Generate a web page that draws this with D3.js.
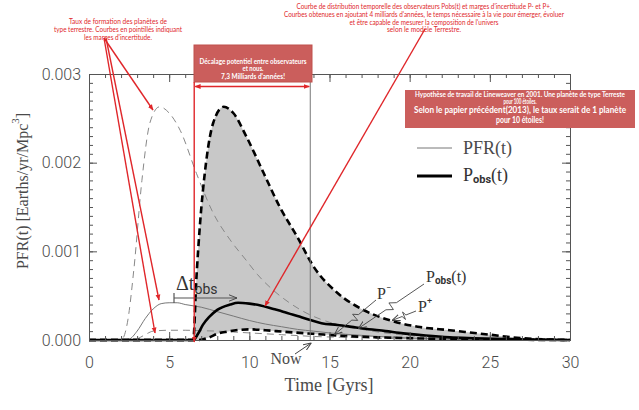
<!DOCTYPE html>
<html><head><meta charset="utf-8">
<script src="https://cdn.jsdelivr.net/npm/d3@7"></script>
<style>body{margin:0;background:#fff}svg{display:block}</style>
</head><body>
<svg id="c" width="639" height="410"></svg>
<script>
// ---- data ----
const xTicks = [0, 5, 10, 15, 20, 25, 30];
const yTicks = [0, 0.001, 0.002, 0.003];
const nowT = 13.8;      // "Now"
const shiftStartT = 6.5; // start of the observer distribution

const pfrT = [0, 2, 2.5, 3, 3.5, 4, 4.5, 5, 5.5, 6, 7, 8, 9, 10, 11, 12, 13, 14, 15, 16, 18, 20, 22, 25, 30];
const pfrV = [0, 0, 0.00001, 0.0001, 0.00024, 0.00035, 0.00041, 0.00042, 0.00042, 0.0004, 0.00037, 0.00032, 0.00027, 0.00022, 0.00018, 0.00015, 0.00012, 0.0001, 0.00008, 0.000065, 0.00004, 0.000022, 0.000012, 0.000004, 0];

const pfrUpT = [0, 2, 2.4, 2.8, 3.3, 3.8, 4.4, 5, 5.7, 6.7, 7.75, 8.8, 9.8, 10.5, 11.5, 12.5, 13.6, 15, 17, 20, 23, 26, 30];
const pfrUpV = [0, 0, 0.0002, 0.0008, 0.0018, 0.00245, 0.00263, 0.00256, 0.00236, 0.00188, 0.00143, 0.00113, 0.0009, 0.00074, 0.00056, 0.00042, 0.0003, 0.0002, 0.00012, 0.00005, 0.00002, 0.00001, 0];

const pfrLoT = [0, 2.8, 3.2, 3.6, 4, 5, 6, 7, 8, 9, 10, 11, 12, 13, 14, 16, 18, 20, 23, 26, 30];
const pfrLoV = [0, 0, 0.00003, 0.00007, 0.0001, 0.00011, 0.00011, 0.000105, 0.0001, 0.00009, 0.00008, 0.00007, 0.00006, 0.00005, 0.00004, 0.00003, 0.00002, 0.000013, 0.000006, 0.000002, 0];

const pObsT = [0, 6.5, 6.8, 7.1, 7.5, 8, 8.8, 9.3, 10, 10.7, 11.5, 12.1, 13, 13.8, 14.5, 15.5, 16.5, 17.1, 18.5, 19.6, 21, 22.5, 24, 26, 28, 30];
const pObsV = [0, 0, 0.00007, 0.00017, 0.00026, 0.00034, 0.0004, 0.00042, 0.00041, 0.00039, 0.00035, 0.00032, 0.00027, 0.000225, 0.00019, 0.00017, 0.000145, 0.00013, 0.0001, 0.000075, 0.00005, 0.00003, 0.00002, 0.00001, 0.000004, 0];

const pPlusT = [0, 6.5, 6.7, 6.9, 7.3, 7.75, 8.4, 9, 9.8, 10.9, 11.9, 13, 14, 15.5, 17, 18.8, 20.5, 22.5, 25, 27, 30];
const pPlusV = [0, 0, 0.0007, 0.00125, 0.002, 0.00245, 0.00263, 0.00256, 0.0023, 0.00188, 0.0015, 0.00116, 0.00083, 0.00053, 0.00035, 0.00022, 0.00015, 0.00011, 0.00006, 0.00002, 0];

const pMinusT = [0, 6.8, 7.5, 8, 8.6, 10, 11, 12.1, 14.1, 16, 18, 20, 23, 26, 30];
const pMinusV = [0, 0, 0.00003, 0.00007, 0.000094, 0.00012, 0.00011, 0.000094, 0.000068, 0.000045, 0.00003, 0.00002, 0.00001, 0.000004, 0];

const noteLeft = ["Taux de  formation des planètes de", "type terrestre. Courbes en pointillés indiquant", "les marges d'incertitude."];
const noteTop = ["Courbe de distribution temporelle des observateurs Pobs(t) et marges d'incertitude P- et P+.",
  "Courbes obtenues en ajoutant 4 milliards d'années, le temps nécessaire à la vie pour émerger, évoluer",
  "et être capable de mesurer la composition de l'univers", "selon le modèle Terrestre."];
const boxShift = ["Décalage potentiel entre observateurs", "et nous.", "7,3 Milliards d'années!"];
const boxHyp = ["Hypothèse de travail de Lineweaver en 2001. Une planète de type Terreste", "pour 100 étoiles.",
  "Selon le papier précédent(2013), le taux serait de 1 planète", "pour 10 étoiles!"];

// ---- drawing ----
const svg = d3.select("#c");
const x = d3.scaleLinear().domain([0, 30]).range([89, 570]);
const y = d3.scaleLinear().domain([0, 0.003]).range([340, 74]);
const serif = "'Liberation Serif','DejaVu Serif',serif";
const sans = "Roboto,'Liberation Sans',Arial,sans-serif";
const noteFont = "Lato,'Open Sans',sans-serif";
const RED = "#e0262a";
const INK = "#4a4a4a";

const defs = svg.append("defs");
defs.append("marker").attr("id", "ra").attr("viewBox", "0 0 10 10").attr("refX", 9).attr("refY", 5)
  .attr("markerWidth", 6).attr("markerHeight", 6).attr("orient", "auto-start-reverse").attr("markerUnits", "userSpaceOnUse")
  .append("path").attr("d", "M0,1 L10,5 L0,9 Z").attr("fill", RED);
defs.append("marker").attr("id", "ga").attr("viewBox", "0 0 10 10").attr("refX", 10).attr("refY", 5)
  .attr("markerWidth", 8).attr("markerHeight", 8).attr("orient", "auto").attr("markerUnits", "userSpaceOnUse")
  .append("path").attr("d", "M0,1 L10,5 L0,9").attr("fill", "none").attr("stroke", "#444").attr("stroke-width", 1.2);

const line = d3.line().x(d => x(d[0])).y(d => y(d[1])).curve(d3.curveMonotoneX);
const pts = (t, v) => d3.zip(t, v);

// gray band between P- and P+
const topPath = line(pts(pPlusT, pPlusV).filter(d => d[0] >= shiftStartT));
const botPath = line(pts(pMinusT, pMinusV).filter(d => d[0] >= shiftStartT).reverse());
svg.append("path").attr("d", topPath + botPath.replace(/^M/, "L") + "Z").attr("fill", "#c8c8c8");

// PFR curves (thin gray)
svg.append("path").attr("d", line(pts(pfrUpT, pfrUpV))).attr("fill", "none").attr("stroke", "#888").attr("stroke-width", 1).attr("stroke-dasharray", "7,5");
svg.append("path").attr("d", line(pts(pfrLoT, pfrLoV))).attr("fill", "none").attr("stroke", "#888").attr("stroke-width", 1).attr("stroke-dasharray", "7,5");
svg.append("path").attr("d", line(pts(pfrT, pfrV))).attr("fill", "none").attr("stroke", "#777").attr("stroke-width", 1);

// observer curves (thick black)
svg.append("path").attr("d", line(pts(pMinusT, pMinusV))).attr("fill", "none").attr("stroke", "#000").attr("stroke-width", 2.6).attr("stroke-dasharray", "7,4");
svg.append("path").attr("d", line(pts(pPlusT, pPlusV))).attr("fill", "none").attr("stroke", "#000").attr("stroke-width", 2.6).attr("stroke-dasharray", "7,4");
svg.append("path").attr("d", line(pts(pObsT, pObsV))).attr("fill", "none").attr("stroke", "#000").attr("stroke-width", 2.6);

// Now line
svg.append("line").attr("x1", x(nowT)).attr("x2", x(nowT)).attr("y1", y(0.003)).attr("y2", y(0)).attr("stroke", "#777").attr("stroke-width", 1);

// axes
function styleAxis(g) { g.select(".domain").attr("stroke", "#555"); g.selectAll(".tick line").attr("stroke", "#555"); }
const minorX = d3.range(0, 31, 1), minorY = d3.range(0, 0.00301, 0.0001);
svg.append("g").attr("transform", `translate(0,${y(0)})`).call(d3.axisBottom(x).tickValues(minorX).tickSize(-4).tickFormat("")).call(styleAxis);
svg.append("g").attr("transform", `translate(0,${y(0.003)})`).call(d3.axisTop(x).tickValues(minorX).tickSize(-4).tickFormat("")).call(styleAxis);
svg.append("g").attr("transform", `translate(${x(0)},0)`).call(d3.axisLeft(y).tickValues(minorY).tickSize(-4).tickFormat("")).call(styleAxis);
svg.append("g").attr("transform", `translate(${x(30)},0)`).call(d3.axisRight(y).tickValues(minorY).tickSize(-4).tickFormat("")).call(styleAxis);

const gx = svg.append("g").attr("transform", `translate(0,${y(0)})`)
  .call(d3.axisBottom(x).tickValues(xTicks).tickSize(-8).tickPadding(17).tickFormat(d3.format("d"))).call(styleAxis);
svg.append("g").attr("transform", `translate(0,${y(0.003)})`).call(d3.axisTop(x).tickValues(xTicks).tickSize(-8).tickFormat("")).call(styleAxis);
const gy = svg.append("g").attr("transform", `translate(${x(0)},0)`)
  .call(d3.axisLeft(y).tickValues(yTicks).tickSize(-8).tickPadding(8).tickFormat(d3.format(".3f"))).call(styleAxis);
svg.append("g").attr("transform", `translate(${x(30)},0)`).call(d3.axisRight(y).tickValues(yTicks).tickSize(-8).tickFormat("")).call(styleAxis);
[gx, gy].forEach(g => g.selectAll("text").attr("font-family", sans).attr("font-weight", 300).attr("font-size", 16).attr("fill", INK));

// axis titles
svg.append("text").attr("x", 329).attr("y", 385).attr("text-anchor", "middle").attr("dominant-baseline", "central")
  .attr("font-family", serif).attr("font-size", 18).attr("fill", INK).text("Time [Gyrs]");
const yt = svg.append("text").attr("transform", "translate(22,191) rotate(-90)").attr("text-anchor", "middle").attr("dominant-baseline", "central")
  .attr("font-family", serif).attr("font-size", 16).attr("fill", INK);
yt.append("tspan").text("PFR(t) [Earths/yr/Mpc");
yt.append("tspan").attr("font-size", 11).attr("dy", -7).text("3");
yt.append("tspan").attr("dy", 7).text("]");

// Now label
svg.append("text").attr("x", 286).attr("y", 358).attr("text-anchor", "middle").attr("dominant-baseline", "central")
  .attr("font-family", serif).attr("font-size", 16).attr("fill", INK).text("Now");
svg.append("line").attr("x1", 295).attr("y1", 354).attr("x2", x(nowT) + 1).attr("y2", 343).attr("stroke", "#444").attr("stroke-width", 1).attr("marker-end", "url(#ga)");

// legend
svg.append("line").attr("x1", 417).attr("x2", 452).attr("y1", 148).attr("y2", 148).attr("stroke", "#777").attr("stroke-width", 1);
svg.append("line").attr("x1", 417).attr("x2", 452).attr("y1", 176).attr("y2", 176).attr("stroke", "#000").attr("stroke-width", 3);
svg.append("text").attr("x", 463).attr("y", 148).attr("dominant-baseline", "central").attr("font-family", serif).attr("font-size", 18).attr("fill", INK).text("PFR(t)");
function pobs(xp, yp, fs, sub) {
  const t = svg.append("text").attr("x", xp).attr("y", yp).attr("dominant-baseline", "central").attr("font-family", serif).attr("font-size", fs).attr("fill", "#333");
  t.append("tspan").text("P");
  t.append("tspan").attr("font-family", sans).attr("font-weight", "bold").attr("font-size", sub).attr("dy", 4).text("obs");
  t.append("tspan").attr("dy", -4).text("(t)");
}
pobs(463, 175, 18, 11);
pobs(426, 276, 16, 10);

// P- / P+ labels
function plab(xp, yp, sign) {
  const t = svg.append("text").attr("x", xp).attr("y", yp).attr("dominant-baseline", "central").attr("font-family", serif).attr("font-size", 16).attr("fill", "#333");
  t.append("tspan").text("P");
  t.append("tspan").attr("font-family", sans).attr("font-size", 9).attr("dy", -5).text(sign);
}
plab(377, 293, "−");
plab(418, 306, "+");

// zigzag leaders
function zig(S, E) {
  const dx = E[0] - S[0], dy = E[1] - S[1], L = Math.hypot(dx, dy);
  const u = [dx / L, dy / L], n = [-u[1], u[0]];
  const f = (a, o) => [S[0] + u[0] * a * L + n[0] * o, S[1] + u[1] * a * L + n[1] * o];
  const p = [S, f(0.42, 0), f(0.5, 4), f(0.5, -4), f(0.58, 0), E];
  svg.append("path").attr("d", d3.line()(p)).attr("fill", "none").attr("stroke", "#444").attr("stroke-width", 0.9).attr("marker-end", "url(#ga)");
}
zig([424, 284], [x(16.8), y(0.00013)]);
zig([376, 300], [x(15.3), y(0.00006)]);
zig([416, 311], [x(18.9), y(0.00022)]);

// Delta t_obs
svg.append("line").attr("x1", 174).attr("x2", 237).attr("y1", 298).attr("y2", 298).attr("stroke", "#555").attr("stroke-width", 1.2).attr("marker-end", "url(#ga)");
svg.append("line").attr("x1", 174).attr("x2", 174).attr("y1", 293).attr("y2", 303).attr("stroke", "#555").attr("stroke-width", 1.2);
const dt = svg.append("text").attr("x", 176).attr("y", 283).attr("dominant-baseline", "central").attr("font-family", serif).attr("font-size", 20).attr("fill", "#333");
dt.append("tspan").text("Δt");
dt.append("tspan").attr("font-family", sans).attr("font-size", 14).attr("dy", 6).text("obs");

// ---- red annotations ----
function noteLines(lines, cx, ys, widths, fs, weight, fill) {
  lines.forEach((s, i) => {
    svg.append("text").attr("x", cx).attr("y", ys[i]).attr("text-anchor", "middle").attr("dominant-baseline", "central")
      .attr("font-family", noteFont).attr("font-size", fs[i]).attr("font-weight", weight).attr("fill", fill)
      .attr("textLength", widths[i]).attr("lengthAdjust", "spacingAndGlyphs").text(s);
  });
}
noteLines(noteLeft, 118, [20.7, 29, 36.7], [98, 128, 68], [7, 7, 7], "normal", RED);
noteLines(noteTop, 424, [5.5, 14, 21.8, 29.4], [255, 280, 149, 74], [7, 7, 7, 7], "normal", RED);

// box: time shift
svg.append("rect").attr("x", 194).attr("y", 45).attr("width", 118).attr("height", 37).attr("fill", "#cb5e5c").attr("stroke", "#c0504d").attr("stroke-width", 1);
noteLines(boxShift, 253, [60.5, 68.2, 76], [107, 21, 64], [7, 7, 7], "bold", "#fff");
svg.append("line").attr("x1", x(shiftStartT) + 2).attr("x2", x(nowT) - 1).attr("y1", 86.5).attr("y2", 86.5).attr("stroke", RED).attr("stroke-width", 1.4)
  .attr("marker-start", "url(#ra)").attr("marker-end", "url(#ra)");
svg.append("line").attr("x1", x(shiftStartT) + 1).attr("x2", x(shiftStartT) + 1).attr("y1", 82).attr("y2", y(0) + 2).attr("stroke", RED).attr("stroke-width", 1.4).attr("marker-end", "url(#ra)");

// box: hypothesis
svg.append("rect").attr("x", 405).attr("y", 90).attr("width", 230).attr("height", 38).attr("fill", "#cb5e5c");
noteLines(boxHyp, 520, [94.5, 101, 110, 119.5], [210, 33, 212, 48], [6.5, 6.5, 8.5, 8.5], "bold", "#fff");

// red arrows
const redArrow = (a, b) => svg.append("line").attr("x1", a[0]).attr("y1", a[1]).attr("x2", b[0]).attr("y2", b[1])
  .attr("stroke", RED).attr("stroke-width", 1.4).attr("marker-end", "url(#ra)");
redArrow([104, 38], [153, 110]);
redArrow([104, 38], [155, 333]);
redArrow([106, 38], [159, 300]);
redArrow([425, 29], [265, 306]);
</script>
</body></html>
